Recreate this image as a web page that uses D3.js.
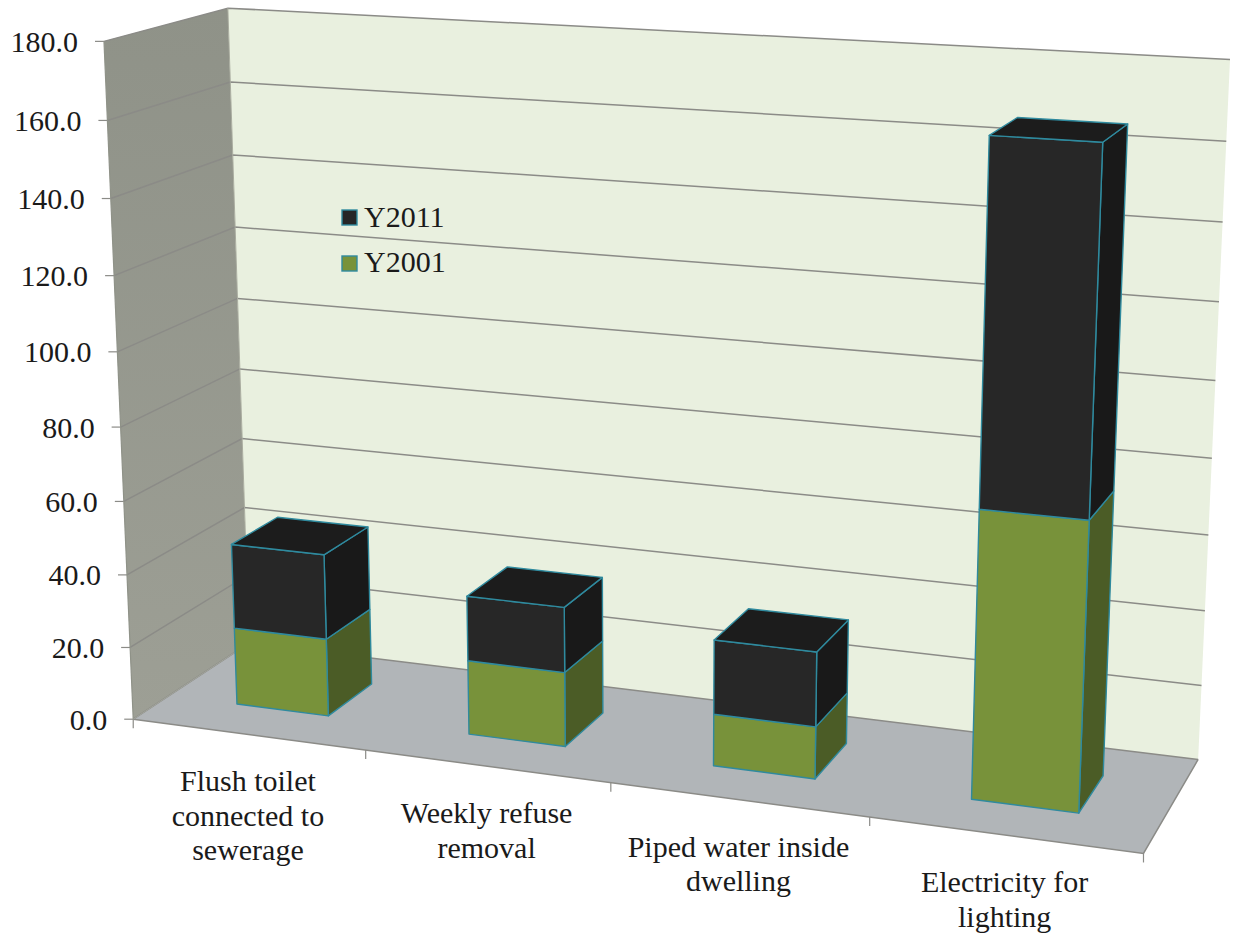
<!DOCTYPE html>
<html><head><meta charset="utf-8"><script src="https://cdnjs.cloudflare.com/ajax/libs/d3/7.8.5/d3.min.js"></script>
<style>html,body{margin:0;background:#fff}svg{display:block}text{font-family:"Liberation Serif",serif;fill:#1a1a1a}</style></head>
<body><svg id="c" width="1233" height="936"></svg>
<script>
const categories=[["Flush toilet","connected to","sewerage"],["Weekly refuse","removal"],["Piped water inside","dwelling"],["Electricity for","lighting"]];
const y2001=[21.4,20.2,13.9,74.8];
const y2011=[23.3,17.6,19.8,91.4];
const yTicks=[0,20,40,60,80,100,120,140,160,180];
const legendItems=[["Y2011","#262626"],["Y2001","#78923a"]];

// Camera fitted to the chart's box: (across, depth, height) in 0..1 -> screen
const calib=[[0,0,0,134,719],[1,0,0,1143,855],[1,1,0,1199,758],[0,1,0,248,644],[0,0,1,103,42],[0,1,1,228,8],[1,1,1,1231,60],[0,0,100/180,118,350],[0,1,100/180,238,299],[1,1,100/180,1214,380]];
function fit(){const A=[],b=[];calib.forEach(([u,d,v,x,y])=>{A.push([u,d,v,1,0,0,0,0,-x*u,-x*d,-x*v]);b.push(x);A.push([0,0,0,0,u,d,v,1,-y*u,-y*d,-y*v]);b.push(y);});
const n=11,M=d3.range(n).map(i=>d3.range(n+1).map(j=>j<n?d3.sum(A,r=>r[i]*r[j]):d3.sum(A,(r,k)=>r[i]*b[k])));
for(let i=0;i<n;i++){let q=i;for(let r=i+1;r<n;r++)if(Math.abs(M[r][i])>Math.abs(M[q][i]))q=r;[M[i],M[q]]=[M[q],M[i]];for(let r=0;r<n;r++)if(r!==i){const f=M[r][i]/M[i][i];for(let c=i;c<=n;c++)M[r][c]-=f*M[i][c];}}
return M.map((r,i)=>r[n]/r[i]);}
const p=fit();
const P=(u,d,v)=>{const w=p[8]*u+p[9]*d+p[10]*v+1;return[(p[0]*u+p[1]*d+p[2]*v+p[3])/w,(p[4]*u+p[5]*d+p[6]*v+p[7])/w];};

const xBand=d3.scaleBand().domain(d3.range(categories.length)).range([0,1]).paddingInner(0.6).paddingOuter(0.3);
const xStep=d3.scaleBand().domain(d3.range(categories.length)).range([0,1]);
const yScale=d3.scaleLinear().domain([0,180]).range([0,1]);
const depth=[0.3,0.705];
const line=d3.line();
const poly=pts=>line(pts)+"Z";
const svg=d3.select("#c");

const defs=svg.append("defs");
const g=defs.append("linearGradient").attr("id","wall").attr("x1",0).attr("y1",0).attr("x2",0).attr("y2",1);
g.append("stop").attr("offset",0).attr("stop-color","#8f9288");
g.append("stop").attr("offset",1).attr("stop-color","#9d9f95");

// walls and floor
svg.append("path").attr("d",poly([P(0,0,0),P(0,1,0),P(0,1,1),P(0,0,1)])).attr("fill","url(#wall)");
svg.append("path").attr("d",poly([P(0,1,0),P(1,1,0),P(1,1,1),P(0,1,1)])).attr("fill","#e9f0df");
svg.append("path").attr("d",poly([P(0,0,0),P(1,0,0),P(1,1,0),P(0,1,0)])).attr("fill","#b1b5b8");

// gridlines
const axisCol="#8b8b87";
yTicks.forEach(t=>{const v=yScale(t);
  svg.append("path").attr("d",line([P(0,0,v),P(0,1,v),P(1,1,v)])).attr("fill","none").attr("stroke",axisCol).attr("stroke-width",1.5);
  const f=P(0,0,v);
  svg.append("path").attr("d",line([[f[0]-9,f[1]],f])).attr("stroke",axisCol).attr("stroke-width",1.2);
  svg.append("text").attr("x",f[0]-26).attr("y",f[1]+10.5).attr("text-anchor","end").attr("font-size",30).text(t.toFixed(1));
});
// wall seams and floor edges
svg.append("path").attr("d",line([P(0,0,1),P(0,0,0)])).attr("stroke","#8f9288").attr("stroke-width",1.2);
svg.append("path").attr("d",line([P(0,1,0),P(0,1,1)])).attr("stroke","#a9ac9f").attr("stroke-width",1);
svg.append("path").attr("d",line([P(0,0,0),P(1,0,0),P(1,1,0)])).attr("fill","none").attr("stroke",axisCol).attr("stroke-width",1.5);
svg.append("path").attr("d",line([P(0,0,0),P(0,1,0)])).attr("fill","none").attr("stroke","#a3a69c").attr("stroke-width",1);

// category ticks
d3.range(categories.length+1).forEach(i=>{const f=P(i/categories.length,0,0);
  svg.append("path").attr("d",line([f,[f[0],f[1]+9]])).attr("stroke",axisCol).attr("stroke-width",1.2);});

// stacked 3D bars
const edge="#2f8a9e";
function face(pts,fill){svg.append("path").attr("d",poly(pts)).attr("fill",fill).attr("stroke",edge).attr("stroke-width",1.4).attr("stroke-linejoin","round");}
categories.forEach((_,i)=>{
  const u0=xBand(i),u1=u0+xBand.bandwidth(),[d0,d1]=depth;
  const a=yScale(0),b=yScale(y2001[i]),c=yScale(y2001[i]+y2011[i]);
  face([P(u1,d0,a),P(u1,d1,a),P(u1,d1,b),P(u1,d0,b)],"#4b5c26");
  face([P(u0,d0,a),P(u1,d0,a),P(u1,d0,b),P(u0,d0,b)],"#78923a");
  face([P(u1,d0,b),P(u1,d1,b),P(u1,d1,c),P(u1,d0,c)],"#191919");
  face([P(u0,d0,b),P(u1,d0,b),P(u1,d0,c),P(u0,d0,c)],"#272727");
  face([P(u0,d0,c),P(u1,d0,c),P(u1,d1,c),P(u0,d1,c)],"#1c1c1c");
});

// category labels
categories.forEach((lines,i)=>{
  const f=P(xStep(i)+xStep.bandwidth()/2,0,0);
  lines.forEach((s,k)=>svg.append("text").attr("x",f[0]).attr("y",f[1]+57+k*34.5).attr("text-anchor","middle").attr("font-size",30).text(s));
});

// legend
legendItems.forEach(([name,col],k)=>{
  svg.append("rect").attr("x",342).attr("y",210+k*46).attr("width",15).attr("height",15).attr("fill",col).attr("stroke",edge).attr("stroke-width",1.4);
  svg.append("text").attr("x",364).attr("y",227+k*45).attr("font-size",30).text(name);
});
</script></body></html>
